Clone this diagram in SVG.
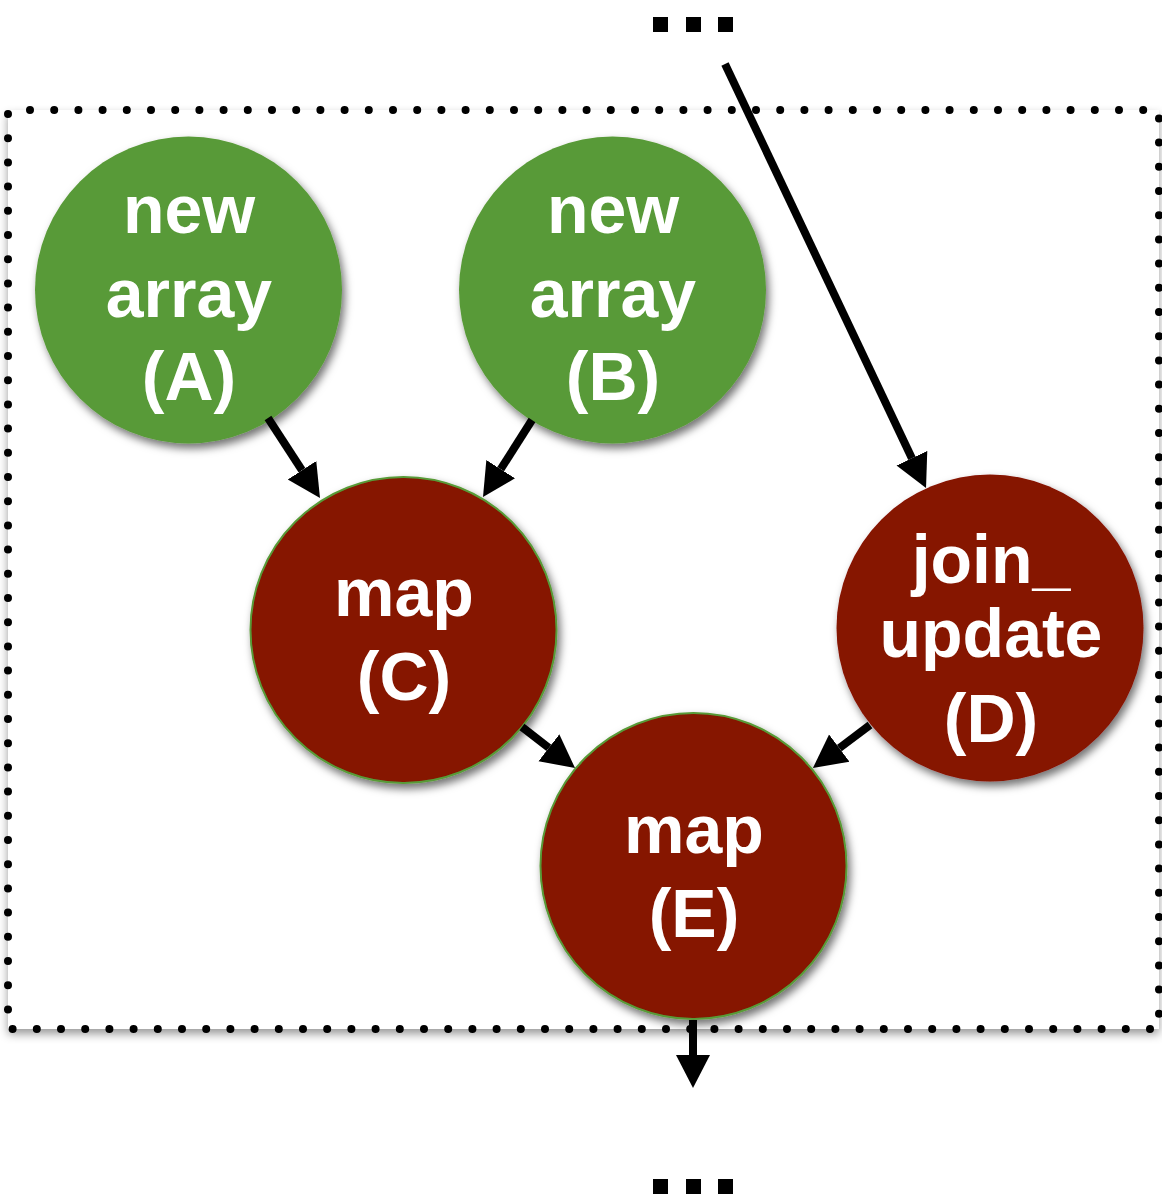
<svg xmlns="http://www.w3.org/2000/svg" width="1162" height="1199" viewBox="0 0 1162 1199">
  <style>
    .lbl { font-family: "Liberation Sans", Arial, Helvetica, sans-serif; font-weight: bold; font-size: 68px; fill: #ffffff; text-anchor: middle; }
    .green { fill: #589a37; }
    .red { fill: #861200; }
    .redb { fill: #861200; stroke: #589a37; stroke-width: 2; }
    .edge { stroke: #000000; stroke-width: 8; fill: none; marker-end: url(#arrow); }
    .dots { fill: #000000; }
  </style>
  <defs>
    <marker id="arrow" markerUnits="userSpaceOnUse" markerWidth="34" markerHeight="36" viewBox="0 -18 34 36" refX="0" refY="0" orient="auto">
      <path d="M0,-17 L33,0 L0,17 z" fill="#000000"/>
    </marker>
    <filter id="shadow" x="-20%" y="-20%" width="140%" height="140%">
      <feDropShadow dx="3" dy="5" stdDeviation="4" flood-color="#000000" flood-opacity="0.55"/>
    </filter>
    <filter id="boxshadow" x="-5%" y="-5%" width="110%" height="110%">
      <feDropShadow dx="0" dy="5" stdDeviation="5" flood-color="#000000" flood-opacity="0.4"/>
    </filter>
  </defs>

  <rect width="1162" height="1199" fill="#ffffff"/>

  <g id="frame">
    <rect x="8" y="110" width="1151" height="919" fill="#ffffff" filter="url(#boxshadow)"/>
    <rect x="8" y="110" width="1151" height="919" fill="none" stroke="#000000" stroke-width="8" stroke-linecap="round" stroke-dasharray="0 24.2" stroke-dashoffset="-22"/>
  </g>

  <g id="ellipsis-top" class="dots">
    <rect x="653" y="17" width="15" height="15"/>
    <rect x="686" y="17" width="15" height="15"/>
    <rect x="718" y="17" width="15" height="15"/>
  </g>
  <g id="ellipsis-bottom" class="dots">
    <rect x="653" y="1179" width="15" height="15"/>
    <rect x="686" y="1179" width="15" height="15"/>
    <rect x="718" y="1179" width="15" height="15"/>
  </g>

  <g id="node-A">
    <circle cx="188.5" cy="290" r="153.5" class="green" filter="url(#shadow)"/>
    <text class="lbl" x="189" y="233">new</text>
    <text class="lbl" x="189" y="317">array</text>
    <text class="lbl" x="189" y="400">(A)</text>
  </g>

  <g id="node-B">
    <circle cx="612.5" cy="290" r="153.5" class="green" filter="url(#shadow)"/>
    <text class="lbl" x="613" y="233">new</text>
    <text class="lbl" x="613" y="317">array</text>
    <text class="lbl" x="613" y="400">(B)</text>
  </g>

  <g id="node-C">
    <circle cx="403.5" cy="630" r="153" class="redb" filter="url(#shadow)"/>
    <text class="lbl" x="404" y="616">map</text>
    <text class="lbl" x="404" y="700">(C)</text>
  </g>

  <g id="node-D">
    <circle cx="990" cy="628" r="153.5" class="red" filter="url(#shadow)"/>
    <text class="lbl" x="991" y="583">join_</text>
    <text class="lbl" x="991" y="657">update</text>
    <text class="lbl" x="991" y="742">(D)</text>
  </g>

  <g id="node-E">
    <circle cx="693.5" cy="866" r="153" class="redb" filter="url(#shadow)"/>
    <text class="lbl" x="694" y="853">map</text>
    <text class="lbl" x="694" y="937">(E)</text>
  </g>

  <g id="connectors">
    <path class="edge" d="M268,418 L302,470.3"/>
    <path class="edge" d="M532,420 L500.7,469.2"/>
    <path class="edge" d="M725,64 L911.9,458.2"/>
    <path class="edge" d="M522,727 L548.9,747.8"/>
    <path class="edge" d="M870,725 L839.3,748.1"/>
    <path class="edge" d="M693,1020 L693,1055"/>
  </g>
</svg>
